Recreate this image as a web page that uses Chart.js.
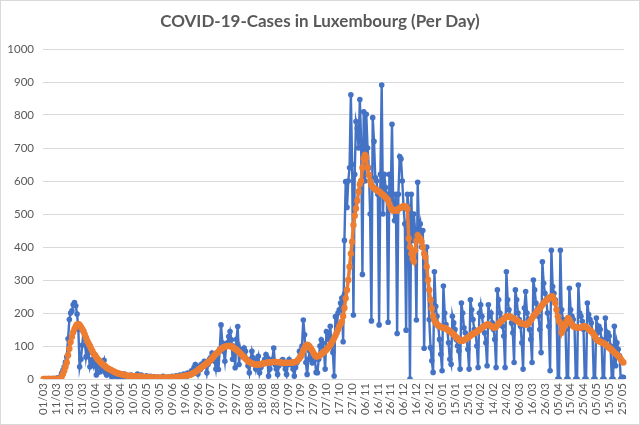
<!DOCTYPE html>
<html>
<head>
<meta charset="utf-8">
<script src="https://cdn.jsdelivr.net/npm/chart.js@4.4.1/dist/chart.umd.min.js"></script>
<style>
  html, body { margin: 0; padding: 0; background: #ffffff; }
  #wrap { width: 640px; height: 425px; position: relative; }
</style>
</head>
<body>
<div id="wrap"><canvas id="c" width="640" height="425"></canvas></div>
<script>
// Daily new cases (blue), 01/03/2020 .. 26/05/2021
const dailyCases = [
  0,0,0,0,1,0,0,1,1,0,
  2,3,2,7,17,26,37,51,67,122,
  180,200,207,225,232,222,197,150,37,60,
  102,142,130,67,92,80,37,52,60,40,
  55,12,52,40,22,30,45,57,20,12,
  27,25,15,7,10,20,12,5,15,8,
  12,5,8,15,3,10,5,8,12,2,
  6,10,4,15,8,3,12,5,2,6,
  10,4,3,8,2,5,7,1,4,6,
  3,2,5,8,1,4,3,6,2,5,
  8,2,4,10,5,3,12,6,8,15,
  10,5,18,12,14,25,20,35,44,30,
  15,38,29,45,40,54,50,19,45,60,
  65,79,70,54,30,65,29,90,164,110,
  84,54,100,110,129,144,119,60,100,34,
  120,159,44,90,70,79,94,84,60,40,
  19,60,84,64,50,30,55,69,19,35,
  44,50,60,74,64,9,30,50,60,94,
  44,30,14,40,49,55,59,45,30,14,
  45,59,44,50,30,9,35,49,60,84,
  70,100,179,134,50,14,60,84,70,49,
  55,59,20,19,60,100,119,109,90,30,
  144,139,120,160,100,80,9,189,150,200,
  210,230,245,113,420,598,520,600,640,861,
  650,194,620,780,760,700,847,720,317,810,
  600,802,700,640,500,176,792,720,610,600,
  560,164,620,891,500,620,580,560,172,620,
  540,772,520,480,560,138,560,674,667,600,
  520,470,148,560,520,0,560,420,500,450,
  179,596,450,470,400,450,93,340,400,300,
  180,95,55,20,325,220,190,160,120,75,
  25,282,200,165,150,110,60,45,190,170,
  150,120,100,85,30,230,200,155,140,120,
  90,30,240,210,180,150,140,100,35,200,
  225,190,160,140,110,40,225,190,200,170,
  150,120,35,270,240,200,185,160,130,35,
  325,240,210,190,170,140,50,270,240,200,
  180,160,110,30,215,265,200,180,150,120,
  50,300,270,230,210,190,150,80,355,290,
  260,240,200,160,25,390,280,260,240,210,
  0,0,390,210,180,170,150,0,0,275,
  210,190,180,160,0,0,285,200,190,175,
  150,0,0,230,195,180,170,140,0,0,
  185,140,160,150,120,0,0,185,120,140,
  130,100,0,0,160,40,110,90,70,0,
  5,5
];

// Smoothed trend (orange)
const trendValues = [
  0,0,0,0,0,0,0,0,0,0,
  0,0,0,0,7,15,25,37,50,72,
  92,112,128,142,152,160,165,167,164,158,
  152,145,135,125,115,108,100,92,84,76,
  72,66,60,56,52,48,44,42,38,35,
  32,30,28,26,24,22,20,18,17,16,
  15,14,13,12,11,10,10,9,9,9,
  8,8,8,8,8,7,7,7,6,6,
  6,5,5,5,5,4,4,4,4,4,
  4,4,4,4,4,4,4,4,4,5,
  5,5,5,6,6,6,7,7,8,9,
  10,10,11,12,13,15,17,19,21,24,
  27,30,33,36,39,42,45,48,51,54,
  58,62,67,72,76,79,83,87,91,94,
  96,98,99,100,100,100,99,97,94,91,
  89,85,81,78,74,70,66,62,58,54,
  52,49,47,46,45,44,44,44,44,45,
  46,47,48,49,50,50,51,51,52,52,
  52,52,51,51,50,50,49,49,49,49,
  49,49,49,50,50,51,52,54,58,63,
  68,76,86,95,101,104,102,98,92,86,
  78,72,68,68,70,72,75,78,82,85,
  89,93,98,103,109,116,124,132,140,150,
  160,167,174,190,215,245,270,300,340,380,
  416,467,495,517,540,568,590,600,640,669,
  679,672,640,618,600,588,582,578,575,573,
  570,568,565,560,558,555,550,546,542,530,
  520,512,510,512,512,510,515,518,520,522,
  524,522,522,515,426,400,380,365,356,390,
  420,436,430,425,416,400,380,370,340,300,
  270,240,214,190,178,170,166,163,160,158,
  156,155,155,153,150,147,145,142,138,135,
  130,127,123,120,117,115,116,118,120,123,
  125,128,131,134,137,139,140,143,146,149,
  152,155,158,161,163,165,165,163,160,158,
  156,155,158,163,168,172,175,178,182,186,
  189,190,190,188,186,185,183,180,178,175,
  172,170,168,167,166,165,165,168,173,178,
  184,190,195,200,205,210,215,220,225,230,
  234,238,242,245,248,250,250,242,230,210,
  190,175,170,140,150,158,165,175,185,180,
  172,165,160,158,157,156,155,155,156,158,
  160,160,158,155,150,147,145,140,135,128,
  120,117,115,113,111,110,108,105,102,98,
  95,92,88,84,80,77,74,70,65,60,
  55,50
];

// Tick labels shown on the x axis (every 10th day)
const tickLabels = ['01/03','11/03','21/03','31/03','10/04','20/04','30/04','10/05','20/05','30/05',
  '09/06','19/06','29/06','09/07','19/07','29/07','08/08','18/08','28/08','07/09',
  '17/09','27/09','07/10','17/10','27/10','06/11','16/11','26/11','06/12','16/12',
  '26/12','05/01','15/01','25/01','04/02','14/02','24/02','06/03','16/03','26/03',
  '05/04','15/04','25/04','05/05','15/05','25/05'];

const yTicks = [0,100,200,300,400,500,600,700,800,900,1000];

const chartTitle = 'COVID-19-Cases in Luxembourg (Per Day)';

// Category labels: one per day starting 01/03/2020
const categories = [];
for (let i = 0; i < dailyCases.length; i++) {
  const d = new Date(2020, 2, 1 + i);
  categories.push(String(d.getDate()).padStart(2,'0') + '/' + String(d.getMonth()+1).padStart(2,'0'));
}

const FONT = "Lato, 'Liberation Sans', sans-serif";
const GREY = '#595959';

const frameAndTitle = {
  id: 'frameAndTitle',
  beforeDraw(chart) {
    const ctx = chart.ctx;
    ctx.save();
    ctx.fillStyle = '#ffffff';
    ctx.fillRect(0, 0, chart.width, chart.height);
    ctx.restore();
  },
  afterDraw(chart) {
    const ctx = chart.ctx;
    ctx.save();
    ctx.strokeStyle = '#d9d9d9';
    ctx.lineWidth = 1;
    ctx.strokeRect(0.5, 0.5, chart.width - 1, chart.height - 1);
    ctx.fillStyle = GREY;
    ctx.font = 'bold 17px ' + FONT;
    ctx.textAlign = 'center';
    ctx.textBaseline = 'middle';
    ctx.fillText(chartTitle, chart.width / 2, 22);
    ctx.restore();
  }
};

new Chart(document.getElementById('c'), {
  type: 'line',
  data: {
    labels: categories,
    datasets: [
      {
        label: 'Moving average',
        data: trendValues,
        borderColor: '#ED7D31',
        backgroundColor: '#ED7D31',
        borderWidth: 3.5,
        pointRadius: 3.2,
        pointBorderWidth: 0,
        pointBackgroundColor: '#ED7D31',
        tension: 0,
        order: 0
      },
      {
        label: 'Cases per day',
        data: dailyCases,
        borderColor: '#4472C4',
        backgroundColor: '#4472C4',
        borderWidth: 2.4,
        pointRadius: 2.8,
        pointBorderWidth: 0,
        pointBackgroundColor: '#4472C4',
        tension: 0,
        order: 1
      }
    ]
  },
  options: {
    responsive: false,
    animation: false,
    devicePixelRatio: 1,
    layout: { padding: { left: 0, right: 16, top: 49, bottom: 0 } },
    plugins: {
      legend: { display: false },
      tooltip: { enabled: false },
      title: { display: false }
    },
    scales: {
      x: {
        type: 'category',
        offset: true,
        grid: { display: false, drawTicks: false },
        border: { display: true, color: '#d9d9d9', width: 1 },
        ticks: {
          autoSkip: false,
          minRotation: 90,
          maxRotation: 90,
          padding: 4,
          color: GREY,
          font: { family: FONT, size: 11.5 },
          callback: function(value, index) {
            return index % 10 === 0 ? tickLabels[index / 10] : null;
          }
        },
        afterFit(scale) { scale.height = 46; }
      },
      y: {
        min: 0,
        max: 1000,
        afterBuildTicks(scale) { scale.ticks = yTicks.map(v => ({ value: v })); },
        grid: { color: '#d9d9d9', lineWidth: 1, drawTicks: false },
        border: { display: false },
        ticks: {
          padding: 9,
          color: GREY,
          font: { family: FONT, size: 11.5 },
          callback: function(value) { return String(value); }
        },
        afterFit(scale) { scale.width = 43; }
      }
    }
  },
  plugins: [frameAndTitle]
});
</script>
</body>
</html>
